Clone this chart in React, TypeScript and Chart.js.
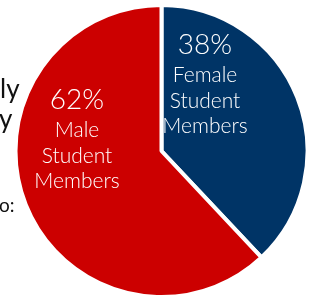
import React, { useEffect, useRef } from "react";
import { Chart, registerables } from "chart.js";

Chart.register(...registerables);

const categories = ["Female Student Members", "Male Student Members"];
const values = [38, 62];
const labelLines = [
  ["Female", "Student", "Members"],
  ["Male", "Student", "Members"],
];
const colors = ["#003466", "#CC0000"];
const sideTexts = [
  { text: "ly", x: 0, y: 98, size: 26 },
  { text: "y", x: -1, y: 128, size: 26 },
  { text: "o:", x: -1, y: 212, size: 19 },
];
// label block positions relative to pie centre
const labelOffsets = [
  { dx: 43.5, dy: -97 },
  { dx: -84.5, dy: -42 },
];

const FONT = "'Lato Light', Lato, 'Open Sans', sans-serif";
const SIDE_FONT = "Lato, 'Open Sans', sans-serif";

const labelPlugin = {
  id: "sliceLabels",
  afterDatasetsDraw(chart: any) {
    const ctx = chart.ctx;
    const meta = chart.getDatasetMeta(0);
    ctx.save();
    ctx.fillStyle = "#111";
    ctx.textAlign = "left";
    ctx.textBaseline = "alphabetic";
    sideTexts.forEach((t) => {
      ctx.font = `400 ${t.size}px ${SIDE_FONT}`;
      ctx.fillText(t.text, t.x, t.y);
    });
    ctx.restore();

    meta.data.forEach((arc: any, i: number) => {
      const { x, y, startAngle, endAngle, outerRadius } = arc.getProps(
        ["x", "y", "startAngle", "endAngle", "outerRadius"],
        true
      );
      ctx.save();
      ctx.beginPath();
      ctx.moveTo(x, y);
      ctx.arc(x, y, outerRadius, startAngle, endAngle);
      ctx.closePath();
      ctx.clip();
      ctx.fillStyle = "#ffffff";
      ctx.textAlign = "center";
      ctx.textBaseline = "alphabetic";
      const cx = x + labelOffsets[i].dx;
      let by = y + labelOffsets[i].dy;
      ctx.font = `300 28px ${FONT}`;
      ctx.fillText(values[i] + "%", cx, by);
      by += 28;
      ctx.font = `300 21px ${FONT}`;
      labelLines[i].forEach((line) => {
        ctx.fillText(line, cx, by);
        by += 25.5;
      });
      ctx.restore();
    });
  },
};

export default function App() {
  const ref = useRef<HTMLCanvasElement>(null);
  useEffect(() => {
    document.body.style.margin = "0";
    const chart = new Chart(ref.current!, {
      type: "pie",
      data: {
        labels: categories,
        datasets: [
          {
            data: values,
            backgroundColor: colors,
            borderColor: "#ffffff",
            borderWidth: 4,
            hoverOffset: 0,
          },
        ],
      },
      options: {
        animation: false,
        responsive: false,
        radius: 146,
        layout: { padding: { left: 13, right: 0, top: 6, bottom: 0 } },
        plugins: {
          legend: { display: false },
          tooltip: { enabled: false },
        },
      },
      plugins: [labelPlugin],
    });
    return () => chart.destroy();
  }, []);
  return (
    <div style={{ width: 310, height: 296, position: "relative", background: "#fff" }}>
      <canvas ref={ref} width={310} height={296} />
    </div>
  );
}
